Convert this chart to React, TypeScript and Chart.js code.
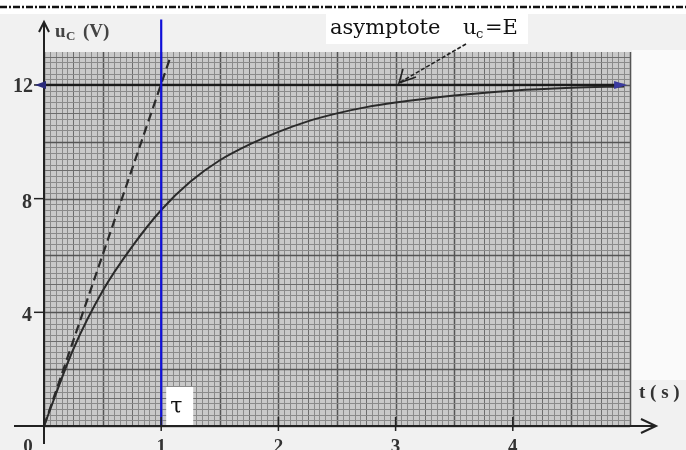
import React, { useEffect, useRef } from "react";
import { Chart, registerables } from "chart.js";

Chart.register(...registerables);

// Charging curve of the capacitor (t in s, uC in V)
const TIME = [0, 0.25, 0.5, 0.75, 1, 1.25, 1.5, 1.75, 2, 2.25, 2.5, 2.75, 3, 3.5, 4, 4.5, 4.95];
const UC = [0, 2.7, 4.75, 6.3, 7.6, 8.6, 9.35, 9.9, 10.35, 10.72, 11.0, 11.22, 11.38, 11.63, 11.8, 11.9, 11.95];
// Tangent at origin (dashed)
const TANGENT_T = [0, 1.08];
const TANGENT_U = [0, 13.0];
// Asymptote uc = E
const E = 12;
const ASYM_T = [0, 4.95];
// Time constant
const TAU = 1;
const TAU_U = [0, 14.3];
// Tick labels
const X_TICKS = [0, 1, 2, 3, 4];
const Y_TICKS = [4, 8, 12];

const X_MAX = 5.0;
const Y_MAX = 13.16;

export default function App() {
  const ref = useRef<HTMLCanvasElement | null>(null);

  useEffect(() => {
    document.body.style.margin = "0";
    const canvas = ref.current!;

    const bgPlugin = {
      id: "paper",
      beforeDatasetsDraw(chart: any) {
        const ctx = chart.ctx as CanvasRenderingContext2D;
        const xs = chart.scales.x;
        const ys = chart.scales.y;
        const { left, right, top, bottom } = chart.chartArea;
        ctx.save();
        ctx.fillStyle = "#c9c9c9";
        ctx.fillRect(left, top, right - left, bottom - top);
        for (let i = 0; i <= Math.round(X_MAX / 0.05); i++) {
          const v = i * 0.05;
          const px = Math.round(xs.getPixelForValue(v)) + 0.5;
          const major = i % 10 === 0;
          const mid = i % 5 === 0;
          ctx.strokeStyle = major ? "#555" : mid ? "#6c6c6c" : "#8a8a8a";
          ctx.lineWidth = major ? 1.5 : 1;
          ctx.beginPath();
          ctx.moveTo(px, top);
          ctx.lineTo(px, bottom);
          ctx.stroke();
        }
        for (let i = 0; i <= Math.floor(Y_MAX / 0.2); i++) {
          const v = i * 0.2;
          const py = Math.round(ys.getPixelForValue(v)) + 0.5;
          const major = i % 10 === 0;
          const mid = i % 5 === 0;
          ctx.strokeStyle = major ? "#555" : mid ? "#6c6c6c" : "#8a8a8a";
          ctx.lineWidth = major ? 1.5 : 1;
          ctx.beginPath();
          ctx.moveTo(left, py);
          ctx.lineTo(right, py);
          ctx.stroke();
        }
        ctx.restore();
      },
    };

    const annoPlugin = {
      id: "annotations",
      beforeDraw(chart: any) {
        const ctx = chart.ctx as CanvasRenderingContext2D;
        ctx.save();
        ctx.fillStyle = "#ffffff";
        ctx.fillRect(0, 0, 686, 450);
        ctx.fillStyle = "#f1f1f1";
        ctx.fillRect(0, 14, 686, 436);
        ctx.fillStyle = "#fafafa";
        ctx.fillRect(632, 50, 54, 330);
        ctx.restore();
      },
      afterDatasetsDraw(chart: any) {
        const ctx = chart.ctx as CanvasRenderingContext2D;
        const xs = chart.scales.x;
        const ys = chart.scales.y;
        const x0 = xs.getPixelForValue(0);
        const y0 = ys.getPixelForValue(0);
        ctx.save();

        // x axis with arrow
        ctx.strokeStyle = "#222";
        ctx.lineWidth = 2;
        ctx.beginPath();
        ctx.moveTo(14, y0);
        ctx.lineTo(655, y0);
        ctx.stroke();
        ctx.beginPath();
        ctx.moveTo(641, y0 - 7);
        ctx.lineTo(656, y0);
        ctx.lineTo(641, y0 + 7);
        ctx.stroke();

        // y axis with arrow
        ctx.beginPath();
        ctx.moveTo(x0, y0 + 18);
        ctx.lineTo(x0, 23);
        ctx.stroke();
        ctx.beginPath();
        ctx.moveTo(x0 - 5, 32);
        ctx.lineTo(x0, 22);
        ctx.lineTo(x0 + 5, 32);
        ctx.stroke();

        // x tick marks and labels
        ctx.fillStyle = "#333";
        ctx.font = "bold 19px 'Liberation Serif'";
        ctx.textAlign = "center";
        ctx.textBaseline = "middle";
        X_TICKS.forEach((t) => {
          const px = xs.getPixelForValue(t);
          ctx.lineWidth = 1.5;
          ctx.beginPath();
          ctx.moveTo(px, y0 - 9);
          ctx.lineTo(px, y0 + 5);
          ctx.stroke();
          ctx.fillText(String(t), t === 0 ? px - 16 : px, y0 + 21);
        });

        // y tick marks and labels
        ctx.textAlign = "right";
        ctx.font = "bold 20px 'Liberation Serif'";
        Y_TICKS.forEach((v) => {
          const py = ys.getPixelForValue(v);
          ctx.lineWidth = 1.5;
          ctx.beginPath();
          ctx.moveTo(x0 - 10, py);
          ctx.lineTo(x0, py);
          ctx.stroke();
          ctx.fillText(String(v), v === 12 ? x0 - 11 : x0 - 12, py + (v === 12 ? 2 : 4));
        });

        // asymptote arrowheads (blue)
        const ya = ys.getPixelForValue(E);
        const xl = xs.getPixelForValue(ASYM_T[0]);
        const xr = xs.getPixelForValue(ASYM_T[1]);
        ctx.fillStyle = "#2a2a7a";
        ctx.beginPath();
        ctx.moveTo(xl - 9, ya);
        ctx.lineTo(xl + 2, ya - 4);
        ctx.lineTo(xl + 2, ya + 4);
        ctx.closePath();
        ctx.fill();
        ctx.fillStyle = "#3a3aa0";
        ctx.beginPath();
        ctx.moveTo(xr + 3, ya);
        ctx.lineTo(xr - 10, ya - 4);
        ctx.lineTo(xr - 10, ya + 4);
        ctx.closePath();
        ctx.fill();

        // uC (V) label
        ctx.fillStyle = "#444";
        ctx.textAlign = "left";
        ctx.textBaseline = "alphabetic";
        ctx.font = "bold 19px 'Liberation Serif'";
        ctx.fillText("u", 55, 37);
        ctx.font = "bold 13px 'Liberation Serif'";
        ctx.fillText("C", 66, 40);
        ctx.font = "bold 19px 'Liberation Serif'";
        ctx.fillText("(V)", 83, 37);

        // t (s) label
        ctx.font = "bold 19px 'Liberation Serif'";
        ctx.fillStyle = "#333";
        ctx.fillText("t ( s )", 639, 398);

        // tau box and label
        const xt = xs.getPixelForValue(TAU);
        ctx.fillStyle = "#ffffff";
        ctx.fillRect(xt + 5, y0 - 39, 27, 38);
        ctx.fillStyle = "#111";
        ctx.font = "22px 'DejaVu Serif'";
        ctx.fillText("τ", xt + 9, y0 - 13);

        // asymptote text
        ctx.fillStyle = "#ffffff";
        ctx.fillRect(326, 14, 202, 30);
        ctx.fillStyle = "#111";
        ctx.font = "21px 'DejaVu Serif'";
        ctx.fillText("asymptote", 330, 34);
        ctx.fillText("u", 463, 34);
        ctx.font = "13px 'DejaVu Serif'";
        ctx.fillText("c", 476, 38);
        ctx.font = "21px 'DejaVu Serif'";
        ctx.fillText("=E", 485, 34);

        // pointer arrow to asymptote
        const tipX = 399;
        const tipY = ya - 2;
        ctx.strokeStyle = "#222";
        ctx.lineWidth = 1.6;
        ctx.setLineDash([4, 2]);
        ctx.beginPath();
        ctx.moveTo(466, 44);
        ctx.lineTo(tipX, tipY);
        ctx.stroke();
        ctx.setLineDash([]);
        ctx.beginPath();
        ctx.moveTo(tipX + 4, tipY - 14);
        ctx.lineTo(tipX, tipY);
        ctx.lineTo(tipX + 17, tipY - 6);
        ctx.stroke();

        // top dash-dot rule
        ctx.strokeStyle = "#111";
        ctx.lineWidth = 2.5;
        ctx.setLineDash([7, 2, 2, 2]);
        ctx.beginPath();
        ctx.moveTo(0, 7);
        ctx.lineTo(686, 7);
        ctx.stroke();
        ctx.restore();
      },
    };

    const chart = new Chart(canvas, {
      type: "line",
      data: {
        datasets: [
          {
            label: "tau",
            data: TAU_U.map((u) => ({ x: TAU, y: u })),
            borderColor: "#1010d8",
            borderWidth: 2.2,
            pointRadius: 0,
            clip: false as any,
          },
          {
            label: "asymptote",
            data: ASYM_T.map((t) => ({ x: t, y: E })),
            borderColor: "#1a1a1a",
            borderWidth: 2.2,
            pointRadius: 0,
          },
          {
            label: "tangent",
            data: TANGENT_T.map((t, i) => ({ x: t, y: TANGENT_U[i] })),
            borderColor: "#2a2a2a",
            borderWidth: 2.2,
            borderDash: [9, 5],
            pointRadius: 0,
          },
          {
            label: "uC",
            data: TIME.map((t, i) => ({ x: t, y: UC[i] })),
            borderColor: "#2a2a2a",
            borderWidth: 2,
            pointRadius: 0,
            cubicInterpolationMode: "monotone",
          },
        ],
      },
      options: {
        responsive: false,
        animation: false,
        devicePixelRatio: 1,
        layout: { padding: { left: 44, right: 56, top: 52, bottom: 24 } },
        plugins: { legend: { display: false }, tooltip: { enabled: false } },
        scales: {
          x: { type: "linear", min: 0, max: X_MAX, display: false },
          y: { type: "linear", min: 0, max: Y_MAX, display: false },
        },
      },
      plugins: [bgPlugin, annoPlugin],
    });
    return () => chart.destroy();
  }, []);

  return <canvas ref={ref} width={686} height={450} style={{ display: "block" }} />;
}
